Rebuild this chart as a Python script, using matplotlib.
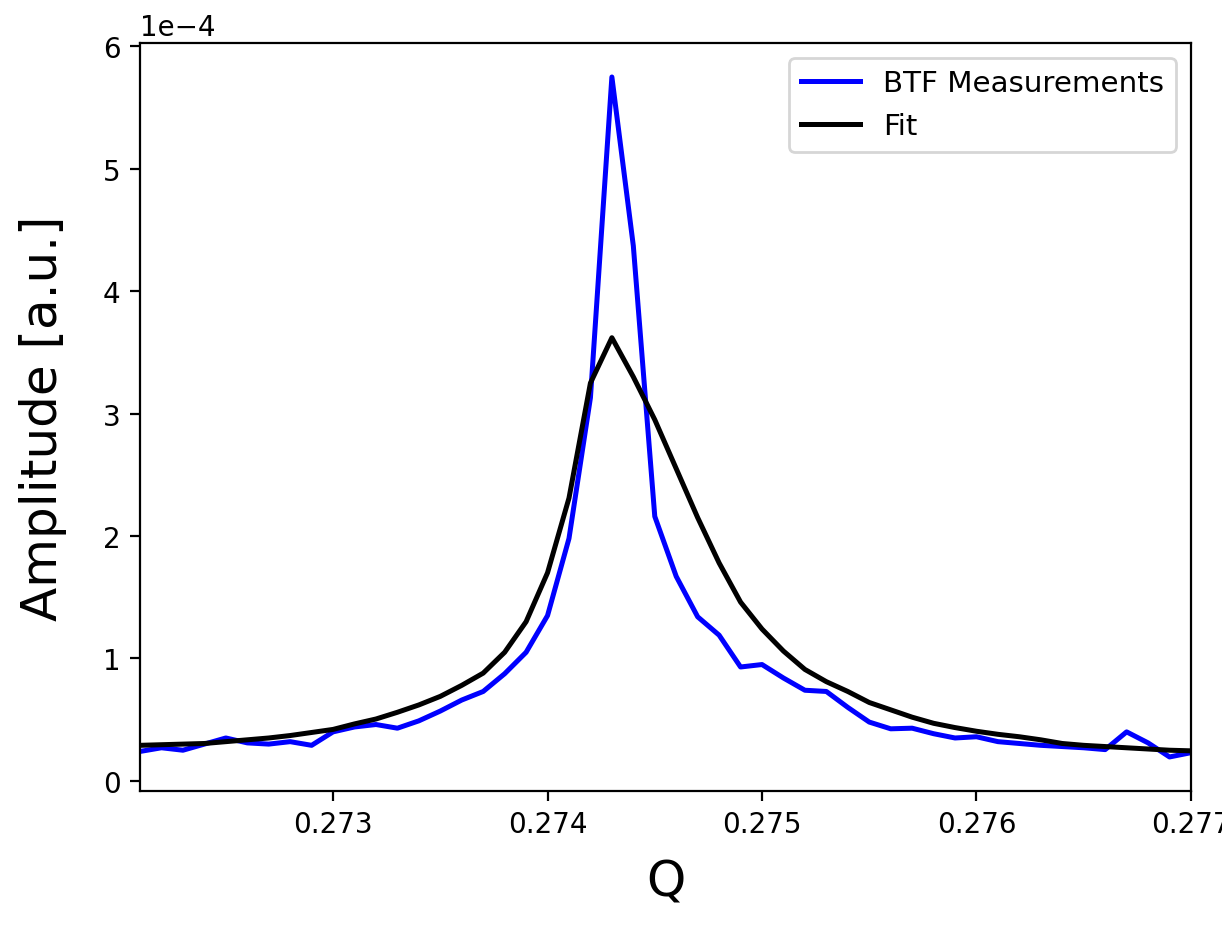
import numpy as np
import matplotlib
matplotlib.use("Agg")
import matplotlib.pyplot as plt

# tune values Q, step 1e-4
q = np.round(np.arange(0.2721, 0.27705, 0.0001), 4)

# measured BTF amplitude (units of 1e-4)
btf = [0.24, 0.27, 0.25, 0.30, 0.35, 0.31, 0.30, 0.32, 0.29, 0.40,
       0.44, 0.46, 0.43, 0.49, 0.57, 0.66, 0.73, 0.875, 1.05, 1.35,
       1.98, 3.13, 5.75, 4.37, 2.16, 1.67, 1.34, 1.19, 0.93, 0.95,
       0.84, 0.74, 0.73, 0.60, 0.48, 0.425, 0.43, 0.385, 0.35, 0.36,
       0.32, 0.305, 0.29, 0.28, 0.27, 0.255, 0.40, 0.31, 0.195, 0.23]

# fitted curve (units of 1e-4)
fit = [0.29, 0.295, 0.30, 0.305, 0.32, 0.335, 0.35, 0.37, 0.395, 0.42,
       0.465, 0.505, 0.56, 0.62, 0.69, 0.78, 0.88, 1.05, 1.30, 1.70,
       2.31, 3.25, 3.62, 3.30, 2.95, 2.55, 2.15, 1.78, 1.46, 1.24,
       1.06, 0.91, 0.81, 0.73, 0.64, 0.58, 0.52, 0.47, 0.435, 0.405,
       0.38, 0.36, 0.335, 0.305, 0.29, 0.28, 0.27, 0.26, 0.25, 0.245]

btf = np.array(btf) * 1e-4
fit = np.array(fit) * 1e-4

fig = plt.figure(figsize=(6.11, 4.64), dpi=200)
ax = fig.add_axes([0.1146, 0.1466, 0.86, 0.806])
ax.plot(q, btf, color="blue", lw=1.8, label="BTF Measurements")
ax.plot(q, fit, color="black", lw=1.8, label="Fit")
ax.set_xlim(q[0], q[-1])
ax.ticklabel_format(style="sci", axis="y", scilimits=(0, 0))
ax.set_xlabel("Q", fontsize=18, labelpad=7)
ax.set_ylabel("Amplitude [a.u.]", fontsize=18, labelpad=13)
ax.legend(loc="upper right", fontsize=10.6)
fig.savefig("out.png", dpi=200)
